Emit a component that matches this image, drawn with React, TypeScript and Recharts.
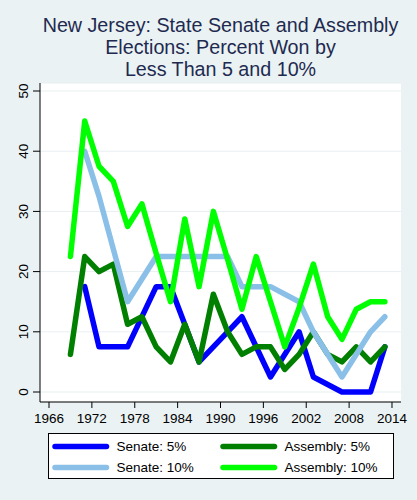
import React from 'react';
import { LineChart, Line, XAxis, YAxis, CartesianGrid, Legend } from 'recharts';

// Assembly elections: every odd year
const years = [1969, 1971, 1973, 1975, 1977, 1979, 1981, 1983, 1985, 1987, 1989, 1991, 1993, 1995, 1997, 1999, 2001, 2003, 2005, 2007, 2009, 2011, 2013];
const assembly5 = [6.25, 22.5, 20, 21.25, 11.25, 12.5, 7.5, 5, 11.25, 5, 16.25, 10, 6.25, 7.5, 7.5, 3.75, 6.25, 10, 6.25, 5, 7.5, 5, 7.5];
const assembly10 = [22.5, 45, 37.5, 35, 27.5, 31.25, 23, 15, 28.75, 17.5, 30, 22, 13.75, 22.5, 15, 7.5, 14, 21.25, 12.5, 8.75, 13.75, 15, 15];

// Senate elections
const senateYears = [1971, 1973, 1977, 1981, 1983, 1987, 1991, 1993, 1997, 2001, 2003, 2007, 2011, 2013];
const senate5 = [17.5, 7.5, 7.5, 17.5, 17.5, 5, 10, 12.5, 2.5, 10, 2.5, 0, 0, 7.5];
const senate10 = [40, 32.5, 15, 22.5, 22.5, 22.5, 22.5, 17.5, 17.5, 15, 10, 2.5, 10, 12.5];

const xTicks = [1966, 1972, 1978, 1984, 1990, 1996, 2002, 2008, 2014];
const yTicks = [0, 10, 20, 30, 40, 50];

const titleLines = ['New Jersey: State Senate and Assembly', 'Elections: Percent Won by', 'Less Than 5 and 10%'];

// drawing order: later series sit on top
const series = [
    { key: 'senate5', name: 'Senate: 5%', color: '#0000ff' },
    { key: 'assembly5', name: 'Assembly: 5%', color: '#007f00' },
    { key: 'senate10', name: 'Senate: 10%', color: '#8ac0e8' },
    { key: 'assembly10', name: 'Assembly: 10%', color: '#00ff00' },
];

const FONT = '"Liberation Sans", Arial, sans-serif';

const data = years.map((year, i) => {
    const s = senateYears.indexOf(year);
    return {
        year,
        assembly5: assembly5[i],
        assembly10: assembly10[i],
        senate5: s >= 0 ? senate5[s] : null,
        senate10: s >= 0 ? senate10[s] : null,
    };
});

const YTick = (props: any) => {
    const { x, y, payload } = props;
    return (
        <text transform={`translate(${x},${y}) rotate(-90)`} textAnchor="middle" fontSize={13.5} fill="#000" fontFamily={FONT}>
            {payload.value}
        </text>
    );
};

const LegendBox = (props: any) => {
    const payload = props.payload || [];
    const items = series.map(s => {
        const p = payload.find((e: any) => e.dataKey === s.key);
        return { name: p ? p.value : s.name, color: p ? p.color : s.color };
    });
    return (
        <div style={{ marginLeft: 48, width: 346, height: 46, boxSizing: 'border-box', border: '1px solid #000', background: '#fff' }}>
            <svg width={344} height={44} style={{ display: 'block' }}>
                {items.map((it, i) => {
                    const col = i % 2;
                    const row = Math.floor(i / 2);
                    const lx = col === 0 ? 6 : 174;
                    const ly = row === 0 ? 12.4 : 33.4;
                    return (
                        <g key={i}>
                            <line x1={lx} y1={ly} x2={lx + 51.5} y2={ly} stroke={it.color} strokeWidth={5.5} strokeLinecap="round" />
                            <text x={lx + 61.5} y={ly + 5} fontSize={13.5} fontFamily={FONT} fill="#000">{it.name}</text>
                        </g>
                    );
                })}
            </svg>
        </div>
    );
};

export default function App() {
    return (
        <div style={{ position: 'absolute', left: 0, top: 0, width: 417, height: 500, background: '#eaf2f3', fontFamily: FONT }}>
            <div style={{ position: 'absolute', left: 0, top: 14, width: 441, textAlign: 'center', whiteSpace: 'nowrap', fontSize: 19.7, lineHeight: '22px', color: '#1e2a50' }}>
                {titleLines.map(t => <div key={t}>{t}</div>)}
            </div>
            <LineChart width={417} height={500} data={data} margin={{ top: 83, right: 16, bottom: 21, left: 8 }}>
                <CartesianGrid vertical={false} stroke="#e8eff1" fill="#ffffff" />
                <XAxis
                    dataKey="year"
                    type="number"
                    domain={[1964.74, 2015.26]}
                    ticks={xTicks}
                    interval={0}
                    allowDataOverflow
                    height={31}
                    tickSize={6}
                    tickMargin={5}
                    stroke="#000"
                    tick={{ fill: '#000', fontSize: 13.5, fontFamily: FONT }}
                />
                <YAxis
                    type="number"
                    domain={[-1.66, 51.33]}
                    ticks={yTicks}
                    interval={0}
                    allowDataOverflow
                    width={32}
                    tickSize={7}
                    tickMargin={5}
                    stroke="#000"
                    tick={<YTick />}
                />
                {series.map(s => (
                    <Line
                        key={s.key}
                        type="linear"
                        dataKey={s.key}
                        name={s.name}
                        stroke={s.color}
                        strokeWidth={5.5}
                        strokeLinejoin="round"
                        strokeLinecap="round"
                        dot={false}
                        activeDot={false}
                        connectNulls
                        isAnimationActive={false}
                    />
                ))}
                <Legend verticalAlign="bottom" content={<LegendBox />} wrapperStyle={{ left: 0, width: 417 }} />
            </LineChart>
        </div>
    );
}
